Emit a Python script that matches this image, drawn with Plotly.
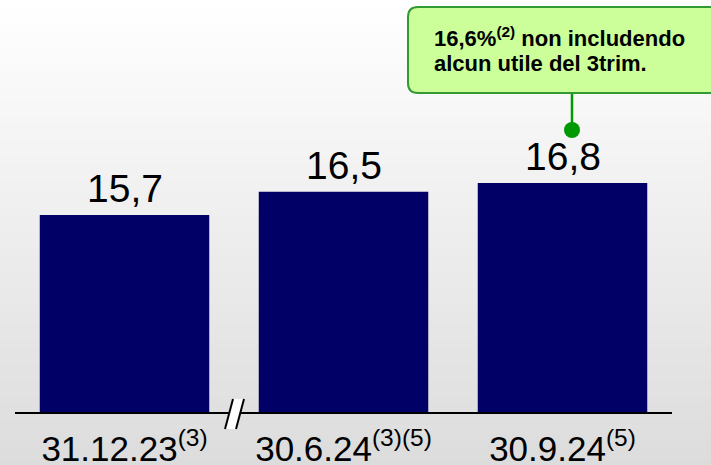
import plotly.graph_objects as go

# data
categories = ["31.12.23", "30.6.24", "30.9.24"]
tick_labels = ["31.12.23<sup>(3)</sup>", "30.6.24<sup>(3)(5)</sup>", "30.9.24<sup>(5)</sup>"]
values = [15.7, 16.5, 16.8]

FONT = "Arial, Liberation Sans, sans-serif"
W_FIG, H_FIG = 711, 465
# plot area in pixels
L, R, T, B = 15, 672, 0, 412
PW, PH = R - L, B - T


def px(x):
    return (x - L) / PW


def py(y):
    return (B - y) / PH


fig = go.Figure()

fig.add_trace(go.Bar(
    x=categories,
    y=values,
    width=0.774,
    marker=dict(color="#000066", line=dict(width=0)),
    hoverinfo="x+y",
))

# value labels above bars
annotations = []
for c, v in zip(categories, values):
    annotations.append(dict(
        x=c, y=v, xref="x", yref="y",
        text=f"{v:.1f}".replace(".", ","),
        showarrow=False, yanchor="bottom", yshift=3,
        font=dict(size=39, color="black", family=FONT),
    ))

# callout text (two lines)
annotations.append(dict(
    x=px(432), y=py(37), xref="paper", yref="paper",
    text="<b>16,6%<sup>(2)</sup> non includendo</b>",
    showarrow=False, xanchor="left", yanchor="middle",
    font=dict(size=22, color="black", family=FONT),
))
annotations.append(dict(
    x=px(432), y=py(63), xref="paper", yref="paper",
    text="<b>alcun utile del 3trim.</b>",
    showarrow=False, xanchor="left", yanchor="middle",
    font=dict(size=22, color="black", family=FONT),
))

shapes = []

# vertical background gradient
n = 60
top_c, bot_c = 255, 220
for i in range(n):
    y0 = i * H_FIG / n
    y1 = (i + 1) * H_FIG / n + 0.5
    g = round(top_c + (bot_c - top_c) * (i + 0.5) / n)
    shapes.append(dict(
        type="rect", xref="paper", yref="paper", layer="below",
        x0=px(0), x1=px(W_FIG), y0=py(y1), y1=py(y0),
        fillcolor=f"rgb({g},{g},{g})", line=dict(width=0),
    ))

# callout box with rounded corners
bl, br, bt, bb = px(408), px(740), py(7), py(93)
rx, ry = 10 / PW, 10 / PH
path = (
    f"M {bl+rx},{bt} L {br-rx},{bt} Q {br},{bt} {br},{bt-ry} "
    f"L {br},{bb+ry} Q {br},{bb} {br-rx},{bb} "
    f"L {bl+rx},{bb} Q {bl},{bb} {bl},{bb+ry} "
    f"L {bl},{bt-ry} Q {bl},{bt} {bl+rx},{bt} Z"
)
shapes.append(dict(
    type="path", xref="paper", yref="paper", path=path,
    fillcolor="#ccff99", line=dict(color="#339933", width=2), layer="above",
))

# connector and dot
shapes.append(dict(
    type="line", xref="paper", yref="paper",
    x0=px(572), x1=px(572), y0=py(94), y1=py(128),
    line=dict(color="#009900", width=2.5),
))
shapes.append(dict(
    type="circle", xref="paper", yref="paper",
    x0=px(564), x1=px(580), y0=py(138), y1=py(122),
    fillcolor="#009900", line=dict(color="#009900", width=0),
))

# axis break marker //
shapes.append(dict(
    type="path", xref="paper", yref="paper",
    path=f"M {px(225)},{py(429)} L {px(233)},{py(399)} L {px(244)},{py(399)} L {px(236)},{py(429)} Z",
    fillcolor="white", line=dict(width=0), layer="above",
))
for (xa, xb) in [(225, 233), (236, 244)]:
    shapes.append(dict(
        type="line", xref="paper", yref="paper",
        x0=px(xa), y0=py(429), x1=px(xb), y1=py(399),
        line=dict(color="black", width=2),
    ))

fig.update_layout(
    width=W_FIG, height=H_FIG,
    margin=dict(l=L, r=W_FIG - R, t=T, b=H_FIG - B, pad=0),
    paper_bgcolor="white",
    plot_bgcolor="rgba(0,0,0,0)",
    showlegend=False,
    bargap=0.226,
    xaxis=dict(
        type="category",
        range=[-0.5, 2.5],
        tickvals=categories,
        ticktext=tick_labels,
        ticks="",
        showline=True, linecolor="black", linewidth=1.5,
        showgrid=False,
        automargin=False,
        tickfont=dict(size=35, color="black", family=FONT),
        ticklabelstandoff=5,
    ),
    yaxis=dict(
        visible=False,
        range=[8.93, 23.09],
        showgrid=False, zeroline=False,
        automargin=False,
    ),
    annotations=annotations,
    shapes=shapes,
)

fig.write_html(
    "out.html",
    config={"displayModeBar": False},
    post_script="document.body.style.margin='0';",
)
